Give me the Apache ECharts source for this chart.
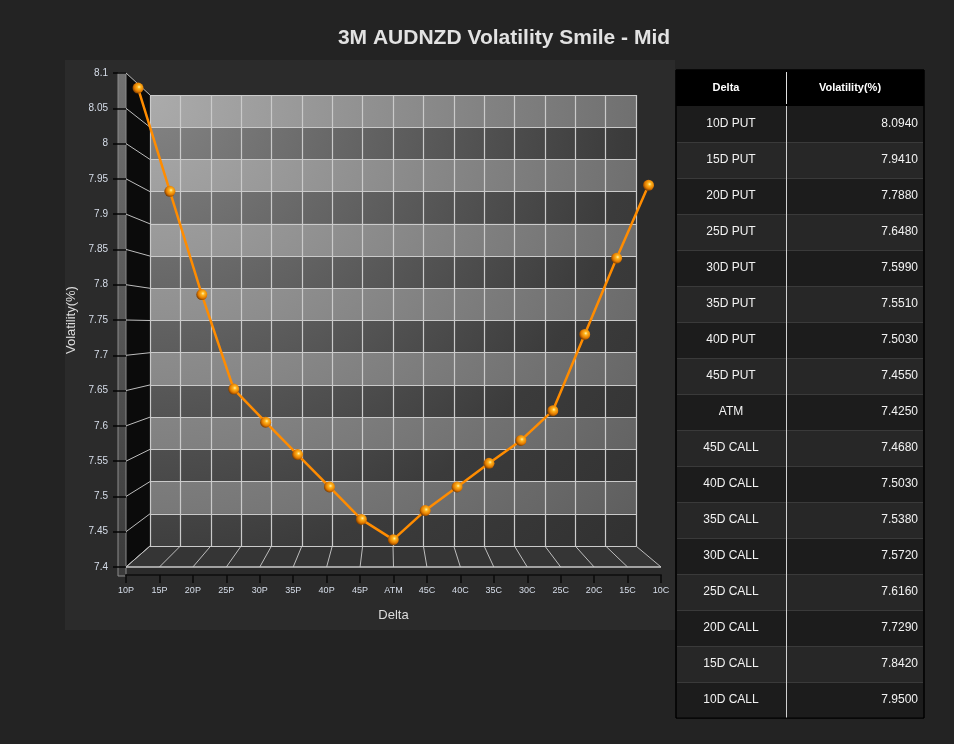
<!DOCTYPE html>
<html>
<head>
<meta charset="utf-8">
<script src="https://cdn.jsdelivr.net/npm/echarts@6/dist/echarts.min.js"></script>
<style>
html,body{margin:0;padding:0;background:#232323;}
#chart{width:954px;height:744px;}
</style>
</head>
<body>
<div id="chart"></div>
<script>
// ---------- data ----------
const categories = ['10P','15P','20P','25P','30P','35P','40P','45P','ATM','45C','40C','35C','30C','25C','20C','15C','10C'];
const tableLabels = ['10D PUT','15D PUT','20D PUT','25D PUT','30D PUT','35D PUT','40D PUT','45D PUT','ATM',
  '45D CALL','40D CALL','35D CALL','30D CALL','25D CALL','20D CALL','15D CALL','10D CALL'];
const volatility = [8.094,7.941,7.788,7.648,7.599,7.551,7.503,7.455,7.425,7.468,7.503,7.538,7.572,7.616,7.729,7.842,7.950];
const tableHeaders = ['Delta','Volatility(%)'];
const yMin = 7.4, yMax = 8.1, yStep = 0.05;
const titleText = '3M AUDNZD Volatility Smile - Mid';
const xName = 'Delta', yName = 'Volatility(%)';

// ---------- layout ----------
const FRONT = {left:126, top:73, width:535, height:494};
const BACK  = {left:150, top:95, width:486, height:451};
const MID   = {left:(FRONT.left+BACK.left)/2, top:(FRONT.top+BACK.top)/2,
               width:(FRONT.width+BACK.width)/2, height:(FRONT.height+BACK.height)/2};
const FONT = "'Liberation Sans', Arial, sans-serif";
const LABEL_COLOR = '#d6dde9';

const chart = echarts.init(document.getElementById('chart'), null, {renderer:'canvas'});

const R = Math.sqrt(BACK.width*BACK.width + BACK.height*BACK.height);
const lightWall = new echarts.graphic.RadialGradient(BACK.left, BACK.top, R,
  [{offset:0,color:'#ababab'},{offset:0.72,color:'#717171'},{offset:1,color:'#5c5c5c'}], true);
const darkWall = new echarts.graphic.RadialGradient(BACK.left, BACK.top, R,
  [{offset:0,color:'#858585'},{offset:0.72,color:'#3b3b3b'},{offset:1,color:'#313131'}], true);

const sphere = new echarts.graphic.RadialGradient(0.6, 0.4, 0.65, [
  {offset:0, color:'#fff3b0'},
  {offset:0.25, color:'#ffb41e'},
  {offset:0.65, color:'#e27a00'},
  {offset:1, color:'#6e3500'}
]);

const hiddenCat = (gi) => ({type:'category', gridIndex:gi, data:categories, boundaryGap:false, show:false});
const hiddenVal = (gi) => ({type:'value', gridIndex:gi, min:yMin, max:yMax, interval:yStep, show:false});

const option = {
  backgroundColor:'#232323',
  animation:false,
  title:{
    text:titleText, left:504, top:28, padding:0, textAlign:'center',
    textStyle:{color:'#e2e2e2', fontSize:21, fontWeight:'bold', fontFamily:FONT}
  },
  grid:[
    Object.assign({}, FRONT),
    Object.assign({show:true, backgroundColor:lightWall, borderWidth:0}, BACK),
    Object.assign({}, MID)
  ],
  xAxis:[
    {type:'category', gridIndex:0, data:categories, boundaryGap:false, offset:8,
     name:xName, nameLocation:'middle', nameGap:34,
     nameTextStyle:{color:'#dcdcdc', fontSize:13, fontFamily:FONT},
     axisLine:{show:true, lineStyle:{color:'#141414', width:2}},
     axisTick:{show:true, interval:0, length:8, lineStyle:{color:'#0a0a0a', width:1.5}},
     axisLabel:{interval:0, color:LABEL_COLOR, fontSize:9, fontFamily:FONT, margin:11},
     splitLine:{show:false}},
    {type:'category', gridIndex:1, data:categories, boundaryGap:false,
     axisLine:{show:false}, axisTick:{show:false}, axisLabel:{show:false},
     splitLine:{show:true, interval:0, lineStyle:{color:'#cacaca', width:1.2}}},
    hiddenCat(2)
  ],
  yAxis:[
    {type:'value', gridIndex:0, min:yMin, max:yMax, interval:yStep,
     name:yName, nameLocation:'middle', nameGap:44,
     nameTextStyle:{color:'#dcdcdc', fontSize:13, fontFamily:FONT},
     axisLine:{show:false},
     axisTick:{show:true, length:13, lineStyle:{color:'#050505', width:1.5}},
     axisLabel:{color:LABEL_COLOR, fontSize:10, fontFamily:FONT, margin:18},
     splitLine:{show:false}},
    {type:'value', gridIndex:1, min:yMin, max:yMax, interval:yStep,
     axisLine:{show:false}, axisTick:{show:false}, axisLabel:{show:false},
     splitLine:{show:true, lineStyle:{color:'#cacaca', width:1.2}},
     splitArea:{show:true, areaStyle:{color:[darkWall, lightWall]}}},
    hiddenVal(2)
  ],
  series:[{
    type:'line', xAxisIndex:2, yAxisIndex:2, data:volatility, z:10,
    symbol:'circle', symbolSize:11, showAllSymbol:true,
    lineStyle:{color:'#ff8c00', width:2.5},
    itemStyle:{color:sphere, borderWidth:0}
  }]
};
chart.setOption(option);

// ---------- 3D frame decorations (positions from the axes) ----------
const F = (i, v) => chart.convertToPixel({xAxisIndex:0, yAxisIndex:0}, [i, v]);
const B = (i, v) => chart.convertToPixel({xAxisIndex:1, yAxisIndex:1}, [i, v]);
const last = categories.length - 1;
const yTicks = [];
for (let k = 0; Math.round(yMin*100 + k*yStep*100) <= Math.round(yMax*100); k++) {
  yTicks.push(+(yMin + k*yStep).toFixed(2));
}

const deco = [];
// panel
deco.push({type:'rect', z:-20, shape:{x:65, y:60, width:610, height:570}, style:{fill:'#2b2b2b'}, silent:true});
// left wall
const fT = F(0, yMax), fB = F(0, yMin), bT = B(0, yMax), bB = B(0, yMin);
deco.push({type:'polygon', z:-10, shape:{points:[fT, bT, bB, fB]}, style:{fill:'#0b0b0b'}, silent:true});
// floor
const fR = F(last, yMin), bR = B(last, yMin);
deco.push({type:'polygon', z:-10, shape:{points:[fB, fR, bR, bB]}, style:{fill:'#353535'}, silent:true});
// wall bar (thickness)
deco.push({type:'rect', z:-9, shape:{x:fT[0]-8, y:fT[1], width:8, height:fB[1]-fT[1]+9},
  style:{fill:new echarts.graphic.LinearGradient(0,0,0,1,[{offset:0,color:'#727272'},{offset:1,color:'#3a3a3a'}]),
         stroke:'#8c8c8c', lineWidth:1}, silent:true});
// wall lines
yTicks.forEach(v => {
  deco.push({type:'line', z:-8, shape:{x1:F(0,v)[0], y1:F(0,v)[1], x2:B(0,v)[0], y2:B(0,v)[1]},
    style:{stroke:'#bdbdbd', lineWidth:1}, silent:true});
});
// floor lines
categories.forEach((c, i) => {
  const a = F(i, yMin), b = B(i, yMin);
  deco.push({type:'line', z:-8, shape:{x1:a[0], y1:a[1], x2:b[0], y2:b[1]},
    style:{stroke:'#bdbdbd', lineWidth:1}, silent:true});
});
// floor front edge
deco.push({type:'line', z:-7, shape:{x1:fB[0], y1:fB[1], x2:fR[0], y2:fR[1]},
  style:{stroke:'#c8c8c8', lineWidth:1.5}, silent:true});

// ---------- table ----------
const T = {x:676, y:70, w:248, hh:36, rh:36, c1:110};
const n = tableLabels.length;
const tbl = [];
tbl.push({type:'rect', shape:{x:T.x, y:T.y, width:T.w, height:T.hh + T.rh*n}, style:{fill:'#1c1c1c', stroke:'#000', lineWidth:1}});
tbl.push({type:'rect', shape:{x:T.x, y:T.y, width:T.w, height:T.hh}, style:{fill:'#000'}});
tbl.push({type:'text', x:T.x + T.c1/2 - 5, y:T.y + T.hh/2, style:{text:tableHeaders[0], fill:'#ffffff', font:'bold 11px ' + FONT, align:'center', verticalAlign:'middle'}});
tbl.push({type:'text', x:T.x + T.c1 + (T.w - T.c1)/2 - 5, y:T.y + T.hh/2, style:{text:tableHeaders[1], fill:'#ffffff', font:'bold 11px ' + FONT, align:'center', verticalAlign:'middle'}});
tableLabels.forEach((lab, i) => {
  const ry = T.y + T.hh + i*T.rh;
  tbl.push({type:'rect', shape:{x:T.x+1, y:ry, width:T.w-2, height:T.rh}, style:{fill: i%2===0 ? '#1c1c1c' : '#272727'}});
  if (i > 0) tbl.push({type:'line', shape:{x1:T.x+1, y1:ry+0.5, x2:T.x+T.w-1, y2:ry+0.5}, style:{stroke:'#3a3a3a', lineWidth:1}});
  tbl.push({type:'text', x:T.x + T.c1/2, y:ry + T.rh/2, style:{text:lab, fill:'#f2f2f2', font:'12px ' + FONT, align:'center', verticalAlign:'middle'}});
  tbl.push({type:'text', x:T.x + T.w - 6, y:ry + T.rh/2, style:{text:volatility[i].toFixed(4), fill:'#f2f2f2', font:'12px ' + FONT, align:'right', verticalAlign:'middle'}});
});
tbl.push({type:'line', shape:{x1:T.x+T.c1+0.5, y1:T.y+2, x2:T.x+T.c1+0.5, y2:T.y+T.hh-2}, style:{stroke:'#e0e0e0', lineWidth:1}});
tbl.push({type:'line', shape:{x1:T.x+T.c1+0.5, y1:T.y+T.hh, x2:T.x+T.c1+0.5, y2:T.y+T.hh+T.rh*n}, style:{stroke:'#d0d0d0', lineWidth:1}});
tbl.push({type:'rect', shape:{x:T.x, y:T.y, width:T.w, height:T.hh + T.rh*n}, style:{fill:null, stroke:'#000', lineWidth:1}});

chart.setOption({graphic:[
  {type:'group', z:-5, silent:true, children:deco},
  {type:'group', z:5, silent:true, children:tbl}
]});
</script>
</body>
</html>
